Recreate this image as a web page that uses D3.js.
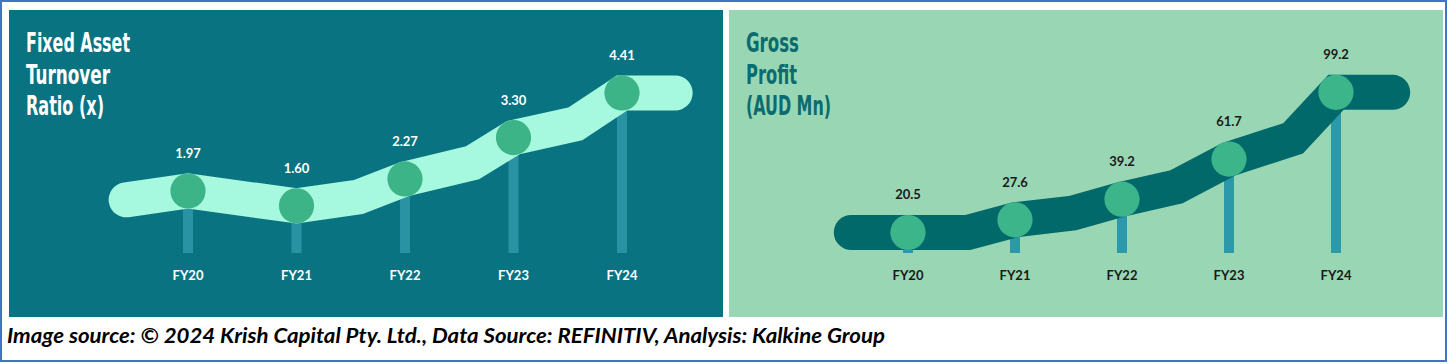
<!DOCTYPE html>
<html lang="en">
<head>
  <meta charset="UTF-8">
  <title>Fixed Asset Turnover and Gross Profit</title>
  <script src="https://cdnjs.cloudflare.com/ajax/libs/d3/7.8.5/d3.min.js"></script>
  <style>
    body { margin: 0; background: #fff; }
    svg { display: block; }
    .title { font-family: "Liberation Sans Narrow", "DejaVu Sans Condensed", sans-serif; font-weight: bold; font-size: 27px; }
    .val, .cat { font-family: Lato, "Open Sans", sans-serif; font-weight: bold; font-size: 13px; text-anchor: middle; }
    .footer { font-family: Lato, "Open Sans", sans-serif; font-weight: bold; font-style: italic; font-size: 20px; }
  </style>
</head>
<body>
<div id="wrapper"></div>
<script>
// categories
const years = ["FY20", "FY21", "FY22", "FY23", "FY24"];

// left panel: fixed asset turnover ratio (x)
const turnover = [1.97, 1.60, 2.27, 3.30, 4.41];
// the thick ribbon behind the dots, [category index, value]
const turnoverBand = [[-0.57, 1.75], [0, 1.97], [1, 1.60], [1.57, 1.82], [2, 2.27],
                      [2.62, 2.67], [3, 3.30], [3.57, 3.64], [4, 4.41], [4.49, 4.41]];

// right panel: gross profit (AUD Mn)
const grossProfit = [20.5, 27.6, 39.2, 61.7, 99.2];
const profitBand = [[-0.53, 20.5], [0, 20.5], [0.56, 20.5], [1, 27.6], [1.54, 31.4], [2, 39.2],
                    [2.51, 46.2], [3, 61.7], [3.6, 73.4], [4, 99.2], [4.53, 99.2]];

const turnoverTitle = ["Fixed Asset", "Turnover", "Ratio (x)"];
const profitTitle = ["Gross", "Profit", "(AUD Mn)"];
const footerText = "Image source: \u00A9 2024 Krish Capital Pty. Ltd., Data Source: REFINITIV, Analysis: Kalkine Group";

const width = 1448, height = 364;

const svg = d3.select("#wrapper")
    .append("svg")
    .attr("width", width)
    .attr("height", height);

// outer frame
svg.append("rect")
    .attr("x", 1).attr("y", 1)
    .attr("width", width - 3).attr("height", 360)
    .attr("fill", "#fff")
    .attr("stroke", "#4472C4")
    .attr("stroke-width", 2);

function drawPanel(opt) {
    const g = svg.append("g");

    g.append("rect")
        .attr("x", opt.left).attr("y", 10)
        .attr("width", 714).attr("height", 307)
        .attr("fill", opt.bg);

    const x = d3.scaleLinear().domain([0, years.length - 1]).range(opt.xRange);
    const y = d3.scaleLinear().domain(opt.yDomain).range([opt.yBase, opt.yTop]);
    const stemBottom = 253;

    // title
    g.append("g")
        .selectAll("text")
        .data(opt.title)
        .enter()
        .append("text")
        .attr("class", "title")
        .attr("x", opt.left + 17)
        .attr("y", (d, i) => 52 + i * 31.5)
        .attr("textLength", (d, i) => opt.titleWidths[i])
        .attr("lengthAdjust", "spacingAndGlyphs")
        .attr("fill", opt.titleColor)
        .text(d => d);

    // stems
    g.append("g")
        .selectAll("rect")
        .data(opt.values)
        .enter()
        .append("rect")
        .attr("x", (d, i) => x(i) - 5)
        .attr("y", d => y(d))
        .attr("width", 10)
        .attr("height", d => stemBottom - y(d))
        .attr("fill", opt.stem);

    // ribbon
    const line = d3.line()
        .x(d => x(d[0]))
        .y(d => y(d[1]));

    g.append("path")
        .attr("d", line(opt.band))
        .attr("fill", "none")
        .attr("stroke", opt.bandColor)
        .attr("stroke-width", 35)
        .attr("stroke-linecap", "round")
        .attr("stroke-linejoin", "miter");

    // dots
    g.append("g")
        .selectAll("circle")
        .data(opt.values)
        .enter()
        .append("circle")
        .attr("cx", (d, i) => x(i))
        .attr("cy", d => y(d))
        .attr("r", 17.6)
        .attr("fill", opt.dot);

    // value labels
    g.append("g")
        .selectAll("text")
        .data(opt.values)
        .enter()
        .append("text")
        .attr("class", "val")
        .attr("x", (d, i) => x(i))
        .attr("y", d => y(d) - 33)
        .attr("fill", opt.textColor)
        .text(d => d3.format(opt.fmt)(d));

    // category labels
    g.append("g")
        .selectAll("text")
        .data(years)
        .enter()
        .append("text")
        .attr("class", "cat")
        .attr("x", (d, i) => x(i))
        .attr("y", 280)
        .attr("fill", opt.textColor)
        .text(d => d);
}

drawPanel({
    left: 9,
    bg: "#0A7381",
    xRange: [188, 622],
    yDomain: [0, 5],
    yBase: 270.1,
    yTop: 270.1 - 5 * 40.16,
    values: turnover,
    band: turnoverBand,
    bandColor: "#A6F9DE",
    dot: "#3DB388",
    stem: "#2A93A3",
    title: turnoverTitle,
    titleWidths: [104, 84, 78],
    titleColor: "#FFFFFF",
    textColor: "#FFFFFF",
    fmt: ".2f"
});

drawPanel({
    left: 729,
    bg: "#99D6B4",
    xRange: [908, 1336],
    yDomain: [0, 100],
    yBase: 269,
    yTop: 269 - 178.1,
    values: grossProfit,
    band: profitBand,
    bandColor: "#02696A",
    dot: "#3DB58A",
    stem: "#2B99A9",
    title: profitTitle,
    titleWidths: [53, 51, 85],
    titleColor: "#0B6B6F",
    textColor: "#1A1A1A",
    fmt: ".1f"
});

// footer
svg.append("text")
    .attr("class", "footer")
    .attr("x", 7)
    .attr("y", 343)
    .attr("textLength", 878)
    .attr("lengthAdjust", "spacingAndGlyphs")
    .attr("fill", "#000")
    .text(footerText);
</script>
</body>
</html>
